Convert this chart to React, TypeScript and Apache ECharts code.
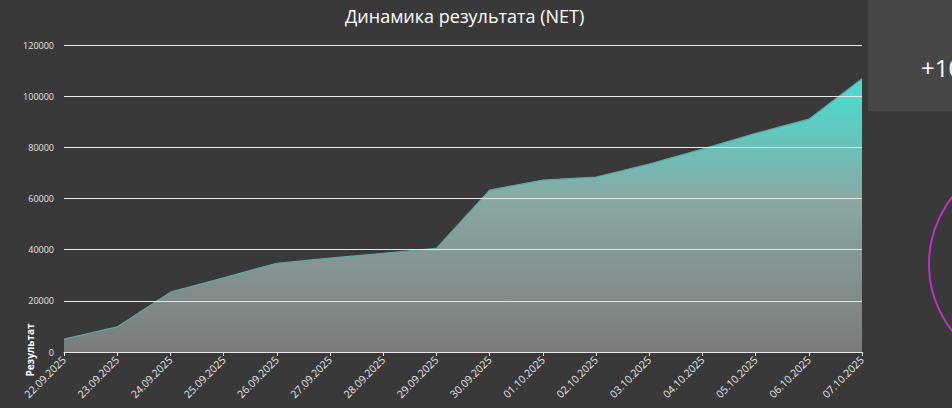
import React, { useEffect, useRef } from "react";
import * as echarts from "echarts";

const dates = [
  "22.09.2025", "23.09.2025", "24.09.2025", "25.09.2025", "26.09.2025", "27.09.2025",
  "28.09.2025", "29.09.2025", "30.09.2025", "01.10.2025", "02.10.2025", "03.10.2025",
  "04.10.2025", "05.10.2025", "06.10.2025", "07.10.2025",
];
const netValues = [
  5000, 9800, 23400, 29000, 34700, 36700, 38600, 40500, 63300, 67200, 68400, 73500,
  79300, 85500, 91000, 106800,
];
const titleText = "Динамика результата (NET)";
const yAxisTitle = "Результат";
const kpiText = "+106 800";

export default function App() {
  const ref = useRef<HTMLDivElement>(null);
  useEffect(() => {
    if (!ref.current) return;
    const chart = echarts.init(ref.current, null, { renderer: "svg" });
    const font = "'Open Sans', 'Noto Sans', sans-serif";
    chart.setOption({
      animation: false,
      backgroundColor: "#393939",
      textStyle: { fontFamily: font },
      title: {
        text: titleText,
        left: 340,
        top: 2,
        textStyle: { color: "#ffffff", fontSize: 18, fontWeight: "normal", fontFamily: font },
      },
      grid: { left: 64, right: 90, top: 45, bottom: 56, containLabel: false },
      xAxis: {
        type: "category",
        data: dates,
        boundaryGap: false,
        z: 3,
        axisLine: { show: true, lineStyle: { color: "#e8e8e8", width: 1 } },
        axisTick: { show: true, length: 4, lineStyle: { color: "#e8e8e8" } },
        axisLabel: { rotate: 45, fontSize: 10.5, color: "#e6e6e6", margin: 6, interval: 0, fontFamily: font },
        splitLine: { show: false },
      },
      yAxis: {
        type: "value",
        min: 0,
        max: 120000,
        interval: 20000,
        z: 3,
        axisLine: { show: false },
        axisTick: { show: false },
        axisLabel: {
          fontSize: 9,
          color: "#e6e6e6",
          margin: 10,
          fontFamily: font,
          formatter: (v: number) => String(v),
        },
        splitLine: { show: true, lineStyle: { color: "#e8e8e8", width: 1 } },
      },
      series: [
        {
          type: "line",
          data: netValues,
          symbol: "none",
          z: 2,
          lineStyle: { color: "#5aa9a2", width: 1.2 },
          areaStyle: {
            opacity: 1,
            color: new echarts.graphic.LinearGradient(0, 0, 0, 1, [
              { offset: 0, color: "#44e0d2" },
              { offset: 0.45, color: "#8aa7a4" },
              { offset: 1, color: "#7b7b7b" },
            ]),
          },
        },
      ],
      graphic: [
        {
          type: "text",
          x: 30,
          y: 350,
          rotation: Math.PI / 2,
          style: {
            text: yAxisTitle,
            fill: "#ffffff",
            fontSize: 10,
            fontWeight: "bold",
            fontFamily: font,
            align: "center",
            verticalAlign: "middle",
          },
        },
        {
          type: "rect",
          shape: { x: 868, y: 0, width: 90, height: 111 },
          style: { fill: "#474747" },
        },
        {
          type: "text",
          x: 921,
          y: 67,
          style: {
            text: kpiText,
            fill: "#ffffff",
            fontSize: 24,
            fontFamily: font,
            align: "left",
            verticalAlign: "middle",
          },
        },
        {
          type: "circle",
          shape: { cx: 1037, cy: 264, r: 108 },
          style: { fill: "none", stroke: "#c030c8", lineWidth: 2 },
        },
      ],
    });
    return () => chart.dispose();
  }, []);
  return (
    <div
      ref={ref}
      style={{ position: "fixed", left: 0, top: 0, width: 952, height: 408 }}
    />
  );
}
